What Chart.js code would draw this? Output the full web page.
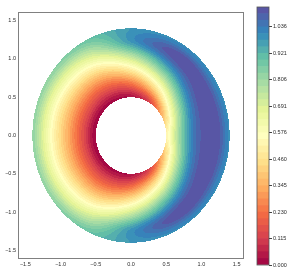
<!DOCTYPE html>
<html>
<head>
<meta charset="utf-8">
<script src="https://cdn.jsdelivr.net/npm/chart.js@4.4.1/dist/chart.umd.min.js"></script>
<style>
  body { margin: 0; background: #fff; }
  #wrap { position: relative; width: 291px; height: 273px; }
  canvas { position: absolute; top: 0; }
  #field { left: 0; }
  #cbar { left: 250px; }
</style>
</head>
<body>
<div id="wrap">
  <canvas id="field" width="250" height="273"></canvas>
  <canvas id="cbar" width="41" height="273"></canvas>
</div>
<script>
// sample grid: one row per angle (deg), one value per radius
const angles = [0, 30, 60, 90, 120, 150, 180, 210, 240, 270, 300, 330];
const radii = [0.5, 0.68, 0.86, 1.04, 1.22, 1.4];
const zGrid = [
  [0.52, 0.80, 1.02, 1.11, 1.12, 1.00],
  [0.35, 0.66, 0.93, 1.09, 1.12, 1.00],
  [0.12, 0.42, 0.72, 0.97, 1.12, 1.00],
  [0.03, 0.24, 0.50, 0.76, 0.98, 0.98],
  [0.01, 0.16, 0.34, 0.54, 0.73, 0.88],
  [0.00, 0.15, 0.31, 0.48, 0.66, 0.83],
  [0.00, 0.15, 0.31, 0.47, 0.65, 0.83],
  [0.00, 0.15, 0.31, 0.48, 0.66, 0.83],
  [0.01, 0.16, 0.34, 0.54, 0.73, 0.88],
  [0.03, 0.24, 0.50, 0.76, 0.98, 0.98],
  [0.12, 0.42, 0.72, 0.97, 1.12, 1.00],
  [0.35, 0.66, 0.93, 1.09, 1.12, 1.00]
];

const axisTicks = [-1.5, -1.0, -0.5, 0.0, 0.5, 1.0, 1.5];
const axisTickLabels = ['\u22121.5', '\u22121.0', '\u22120.5', '0.0', '0.5', '1.0', '1.5'];

const levelCount = 40;
const zMax = 1.1225;
const cbarTicks = [0, 0.1151, 0.2302, 0.3453, 0.4604, 0.5756, 0.6907, 0.8058, 0.9209, 1.036];
const cbarTickLabels = ['0.000', '0.115', '0.230', '0.345', '0.460', '0.576', '0.691', '0.806', '0.921', '1.036'];

// Spectral colormap anchors
const spectral = [
  [158, 1, 66], [213, 62, 79], [244, 109, 67], [253, 174, 97], [254, 224, 139],
  [255, 255, 191], [230, 245, 152], [171, 221, 164], [102, 194, 165], [50, 136, 189], [94, 79, 162]
];

function cmap(t) {
  const f = Math.max(0, Math.min(1, t)) * (spectral.length - 1);
  const i = Math.min(Math.floor(f), spectral.length - 2);
  const u = f - i;
  return spectral[i].map((c, k) => Math.round(c + (spectral[i + 1][k] - c) * u));
}

const step = zMax / (levelCount - 1);
const bandColors = [];
for (let k = 0; k < levelCount - 1; k++) bandColors.push(cmap((k + 0.5) / (levelCount - 1)));

function cr(p0, p1, p2, p3, t) {
  return 0.5 * (2 * p1 + (-p0 + p2) * t + (2 * p0 - 5 * p1 + 4 * p2 - p3) * t * t + (-p0 + 3 * p1 - 3 * p2 + p3) * t * t * t);
}

function sampleZ(th, r) {
  const na = angles.length;
  const fa = th / (360 / na);
  const ia = Math.floor(fa), ta = fa - ia;
  const nr = radii.length;
  const fr = (r - radii[0]) / (radii[1] - radii[0]);
  const ir = Math.max(0, Math.min(Math.floor(fr), nr - 2)), tr = fr - ir;
  const atR = k => {
    k = Math.max(0, Math.min(nr - 1, k));
    const g = m => zGrid[((ia + m) % na + na) % na][k];
    return cr(g(-1), g(0), g(1), g(2), ta);
  };
  return cr(atR(ir - 1), atR(ir), atR(ir + 1), atR(ir + 2), tr);
}

const fieldPlugin = {
  id: 'field',
  beforeDatasetsDraw(chart) {
    const { ctx, chartArea: a, scales: { x, y } } = chart;
    const left = Math.round(a.left), top = Math.round(a.top);
    const w = Math.round(a.right) - left, h = Math.round(a.bottom) - top;
    const img = ctx.createImageData(w, h);
    for (let j = 0; j < h; j++) {
      const yv = y.getValueForPixel(top + j + 0.5);
      for (let i = 0; i < w; i++) {
        const xv = x.getValueForPixel(left + i + 0.5);
        const r = Math.hypot(xv, yv);
        if (r < radii[0] || r > radii[radii.length - 1]) continue;
        let th = Math.atan2(yv, xv) * 180 / Math.PI;
        if (th < 0) th += 360;
        const z = sampleZ(th, r);
        const k = Math.max(0, Math.min(levelCount - 2, Math.floor(z / step)));
        const c = bandColors[k];
        const p = (j * w + i) * 4;
        img.data[p] = c[0]; img.data[p + 1] = c[1]; img.data[p + 2] = c[2]; img.data[p + 3] = 255;
      }
    }
    ctx.putImageData(img, left, top);
  }
};

const framePlugin = {
  id: 'frame',
  afterDraw(chart) {
    const { ctx, chartArea: a } = chart;
    ctx.save();
    ctx.strokeStyle = '#808080';
    ctx.lineWidth = 1;
    ctx.strokeRect(Math.round(a.left) - 0.5, Math.round(a.top) - 0.5, a.right - a.left + 1, a.bottom - a.top + 1);
    ctx.restore();
  }
};

const tickFont = { family: '"Liberation Sans", Arial, sans-serif', size: 5.5 };
const tickColor = '#2b2b2b';

const samplePoints = [];
angles.forEach((a, i) => radii.forEach(r => samplePoints.push({
  x: r * Math.cos(a * Math.PI / 180), y: r * Math.sin(a * Math.PI / 180), z: zGrid[i]
})));

function axisOpts(min, max, fit) {
  return {
    type: 'linear', min: min, max: max,
    grid: { display: false, drawTicks: false },
    border: { display: false },
    ticks: {
      padding: 3, font: tickFont, color: tickColor, autoSkip: false, maxRotation: 0,
      callback: (v, i) => axisTickLabels[i]
    },
    afterBuildTicks: s => { s.ticks = axisTicks.map(v => ({ value: v })); },
    afterFit: fit
  };
}

new Chart(document.getElementById('field'), {
  type: 'scatter',
  data: { datasets: [{ data: samplePoints, pointRadius: 0 }] },
  options: {
    responsive: false,
    animation: false,
    layout: { padding: { top: 13, right: 7, left: 0, bottom: 0 } },
    plugins: { legend: { display: false }, tooltip: { enabled: false } },
    scales: {
      x: axisOpts(-1.59, 1.59, s => { s.height = 15; }),
      y: axisOpts(-1.6, 1.6, s => { s.width = 19; })
    }
  },
  plugins: [fieldPlugin, framePlugin]
});

const cbarOutline = {
  id: 'cbarOutline',
  afterDraw(chart) {
    const { ctx, chartArea: a } = chart;
    ctx.save();
    ctx.strokeStyle = '#555';
    ctx.lineWidth = 0.8;
    ctx.strokeRect(a.left, a.top, a.right - a.left, a.bottom - a.top);
    ctx.restore();
  }
};

new Chart(document.getElementById('cbar'), {
  type: 'bar',
  data: {
    labels: [''],
    datasets: bandColors.map(c => ({
      data: [step],
      backgroundColor: 'rgb(' + c.join(',') + ')',
      borderWidth: 0,
      barPercentage: 1,
      categoryPercentage: 1
    }))
  },
  options: {
    responsive: false,
    animation: false,
    layout: { padding: { left: 7, top: 7, bottom: 8, right: 0 } },
    plugins: { legend: { display: false }, tooltip: { enabled: false } },
    scales: {
      x: { display: false, stacked: true },
      y: {
        stacked: true, position: 'right', min: 0, max: zMax,
        grid: { drawOnChartArea: false, drawTicks: true, tickLength: 3, color: '#444' },
        border: { display: false },
        ticks: { padding: 1, font: tickFont, color: tickColor, autoSkip: false, callback: (v, i) => cbarTickLabels[i] },
        afterBuildTicks: s => { s.ticks = cbarTicks.map(v => ({ value: v })); },
        afterFit: s => { s.width = 22; }
      }
    }
  },
  plugins: [cbarOutline]
});
</script>
</body>
</html>
